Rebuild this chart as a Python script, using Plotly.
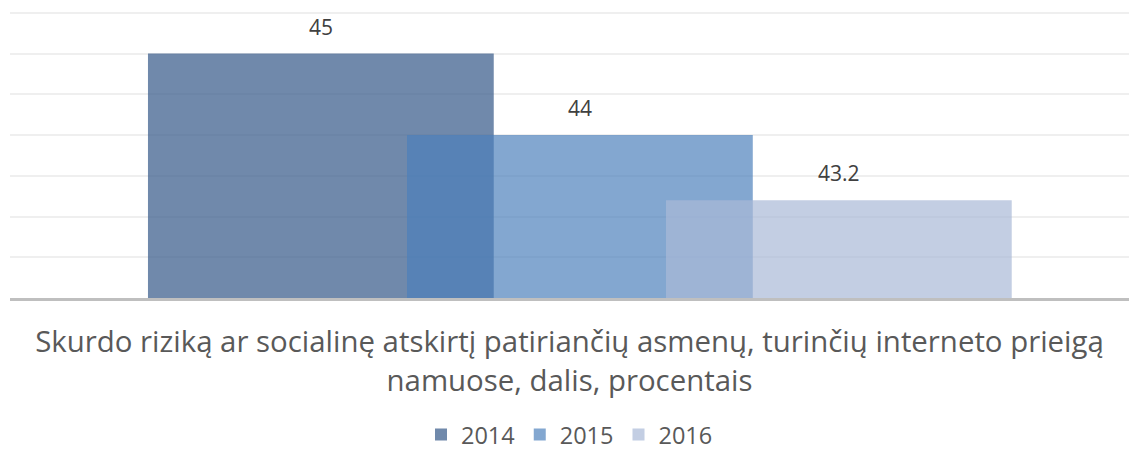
import plotly.graph_objects as go

category = ["Skurdo riziką ar socialinę atskirtį patiriančių asmenų, turinčių interneto prieigą<br>namuose, dalis, procentais"]
years = ["2014", "2015", "2016"]
values = [45, 44, 43.2]
colors = ["rgba(64,98,143,0.75)", "rgba(75,128,187,0.69)", "rgba(169,185,215,0.70)"]
offsets = [-0.3767, -0.1452, 0.0862]
bar_width = 0.309

fig = go.Figure()
for yr, v, c, off in zip(years, values, colors, offsets):
    fig.add_trace(go.Bar(
        x=category, y=[v], name=yr,
        marker=dict(color=c, line=dict(width=0)),
        width=bar_width, offset=off,
        cliponaxis=False,
    ))
    fig.add_annotation(
        x=off + bar_width / 2, y=v, xref="x", yref="y",
        text=f"{v:g}", showarrow=False, yanchor="bottom", yshift=11,
        font=dict(size=21, color="#404040", family="Open Sans"),
    )

fig.update_layout(
    barmode="overlay",
    width=1139, height=451,
    margin=dict(l=10, r=10, t=8, b=153),
    paper_bgcolor="white", plot_bgcolor="white",
    font=dict(family="Open Sans", color="#595959"),
    showlegend=True,
    legend=dict(orientation="h", x=0.5, xanchor="center", yref="container",
                y=0.036, yanchor="middle",
                font=dict(size=23.5, color="#595959"), traceorder="normal",
                itemwidth=30),
    xaxis=dict(range=[-0.5, 0.5], showgrid=False, showline=True, linecolor="#BFBFBF",
               linewidth=3, ticks="", tickfont=dict(size=29.4, color="#595959"),
               ticklabelstandoff=16, automargin=False),
    yaxis=dict(range=[42, 45.56], tick0=42, dtick=0.5, showgrid=True, gridcolor="#EFEFEF",
               gridwidth=2, showticklabels=False, zeroline=False, showline=False,
               automargin=False),
)

fig.write_html("out.html", config={"displayModeBar": False},
               post_script="document.body.style.margin='0px';")
